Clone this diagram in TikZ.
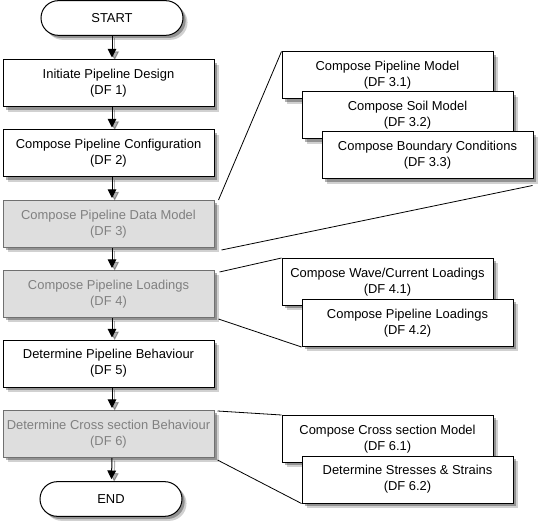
\documentclass[tikz,border=0pt]{standalone}
\usepackage{fontspec}
\setmainfont{Liberation Sans}
\usetikzlibrary{arrows.meta,shadows}
\definecolor{boxgray}{HTML}{DEDEDE}
\definecolor{bordergray}{HTML}{707070}
\definecolor{textgray}{HTML}{808080}
\begin{document}
\begin{tikzpicture}[x=0.75pt,y=-0.75pt,
  font=\fontsize{9.7}{12}\selectfont,
  shad/.style={drop shadow={shadow xshift=3.4pt,shadow yshift=-3.4pt,fill=black,opacity=0.18},
               drop shadow={shadow xshift=2pt,shadow yshift=-2pt,fill=black,opacity=0.3}},
  box/.style={draw=black,fill=white,line width=0.75pt,minimum width=158.25pt,minimum height=35.25pt,
              align=center,inner sep=0pt,shad},
  graybox/.style={box,draw=bordergray,fill=boxgray,text=textgray},
  term/.style={draw=black,fill=white,line width=0.75pt,rounded corners=13pt,minimum width=106.5pt,
               minimum height=26pt,inner sep=0pt,shad},
  arr/.style={line width=0.75pt,-{Triangle[width=6.5pt,length=6.5pt]},shorten >=1.5pt},
  arrshad/.style={line width=0.75pt,black,opacity=0.3,-{Triangle[width=6.5pt,length=6.5pt]},shorten >=1.5pt},
  link/.style={line width=0.6pt,black}]
\useasboundingbox (0,0) rectangle (543,524);

% main column
\node[term] (start) at (112,18) {START};
\node[box] (b1) at (108.5,83.5) {Initiate Pipeline Design\\(DF 1)};
\node[box] (b2) at (108.5,153.5) {Compose Pipeline Configuration\\(DF 2)};
\node[graybox] (b3) at (108.5,224) {Compose Pipeline Data Model\\(DF 3)};
\node[graybox] (b4) at (108.5,294) {Compose Pipeline Loadings\\(DF 4)};
\node[box] (b5) at (108.5,363.5) {Determine Pipeline Behaviour\\(DF 5)};
\node[graybox] (b6) at (108.5,434) {Determine Cross section Behaviour\\(DF 6)};
\node[term] (end) at (111,499) {END};

\foreach \a/\b in {b1/b2,b2/b3,b3/b4,b4/b5,b5/b6}{
  \draw[arrshad,transform canvas={shift={(2pt,-2pt)}}] (\a.south -| start) -- (\b.north -| start);
  \draw[arr] (\a.south -| start) -- (\b.north -| start);
}
\draw[arrshad,transform canvas={shift={(2pt,-2pt)}}] (start) -- (start |- b1.north);
\draw[arr] (start) -- (start |- b1.north);
\draw[arrshad,transform canvas={shift={(2pt,-2pt)}}] (b6.south -| start) -- (end);
\draw[arr] (b6.south -| start) -- (end);

% sub-diagrams
\node[box] (c31) at (387.5,75.5) {Compose Pipeline Model\\(DF 3.1)};
\node[box] (c32) at (407.5,115.5) {Compose Soil Model\\(DF 3.2)};
\node[box] (c33) at (427.5,155.5) {Compose Boundary Conditions\\(DF 3.3)};

\node[box] (c41) at (387.5,282) {Compose Wave/Current Loadings\\(DF 4.1)};
\node[box] (c42) at (407.5,323) {Compose Pipeline Loadings\\(DF 4.2)};

\node[box] (c61) at (387.5,439) {Compose Cross section Model\\(DF 6.1)};
\node[box] (c62) at (407.5,479.5) {Determine Stresses \& Strains\\(DF 6.2)};

% zoom lines
\draw[link] ([shift={(4,0)}]b3.north east) -- (c31.north west);
\draw[link] ([shift={(7,2)}]b3.south east) -- ([shift={(-1,6)}]c33.south east);
\draw[link] ([shift={(5,2)}]b4.north east) -- (c41.north west);
\draw[link] ([shift={(4,1)}]b4.south east) -- (c42.south west);
\draw[link] ([shift={(3,1)}]b6.north east) -- (c61.north west);
\draw[link] ([shift={(3,2)}]b6.south east) -- (c62.south west);
\end{tikzpicture}
\end{document}
